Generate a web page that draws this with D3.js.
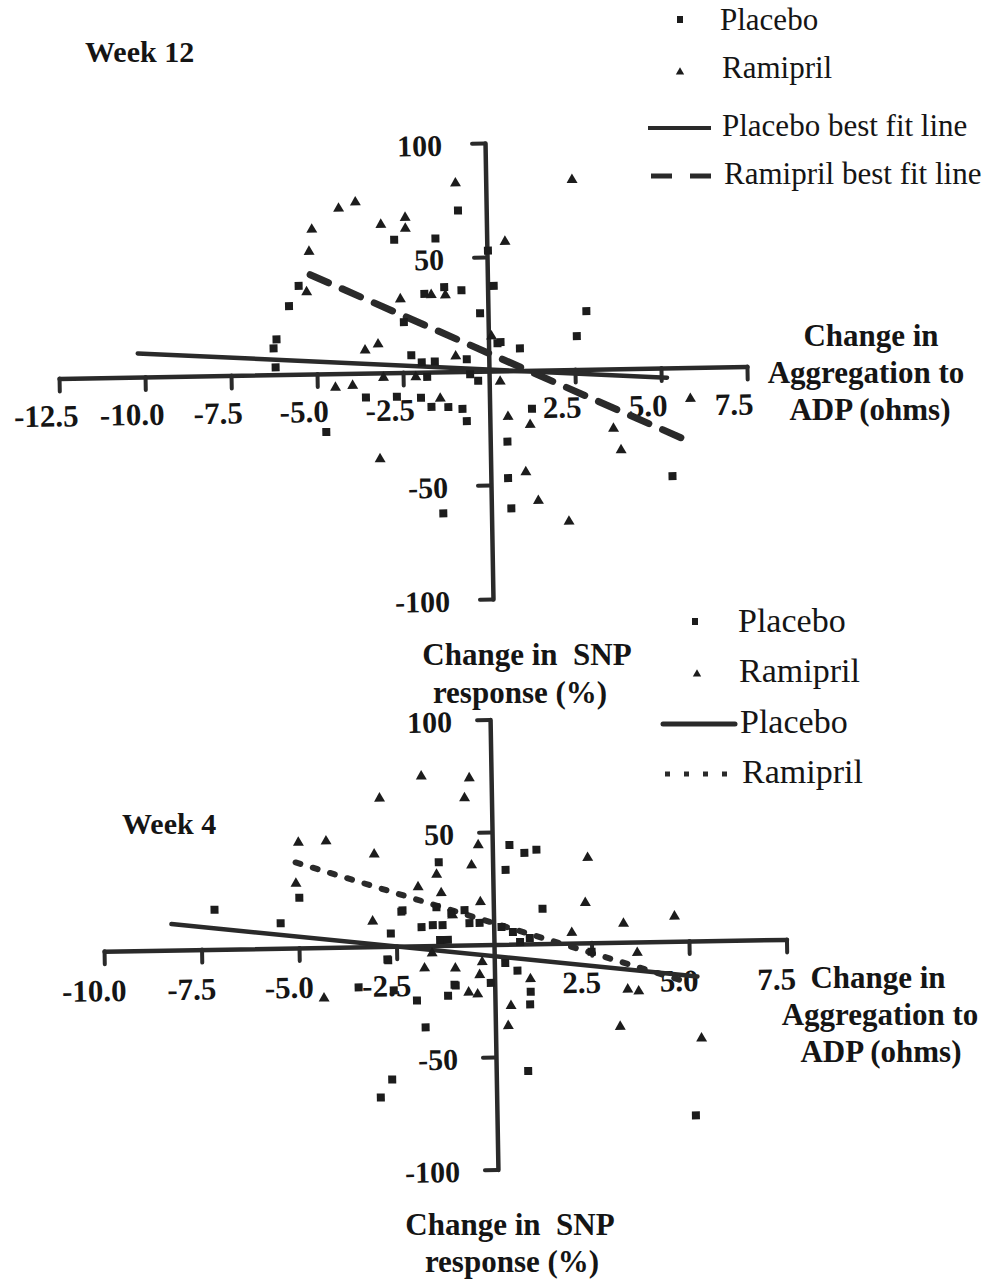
<!DOCTYPE html>
<html>
<head>
<meta charset="utf-8">
<script src="https://cdn.jsdelivr.net/npm/d3@7"></script>
<style>
  html, body { margin: 0; padding: 0; background: #fff; }
  svg { display: block; }
  text { font-family: "Liberation Serif", "Times New Roman", serif; fill: #151515; }
  .bold { font-weight: bold; }
</style>
</head>
<body>
<script>
// ---- Week 12 panel: change in ADP aggregation (x, ohms) vs change in SNP response (y, %)
const week12Placebo = [
  [-0.82, 70.6], [-2.69, 58.3], [-1.49, 58.5], [-5.49, 38.8], [-5.78, 30.0], [-1.84, 34.3],
  [-1.26, 37.1], [-0.76, 35.6], [0.18, 37.3], [0.03, 52.8], [-0.23, 25.4], [-2.45, 22.1],
  [-6.16, 15.5], [-6.25, 11.6], [-2.25, 7.5], [0.26, 12.1], [-0.64, 5.3], [2.86, 25.5],
  [2.57, 14.6], [0.91, 9.7], [0.35, 12.6], [-1.95, 4.3], [-1.57, 4.6], [-1.8, -2.1],
  [-0.55, -1.3], [-0.32, -4.2], [-6.2, 3.2], [-3.59, -10.7], [-2.69, -10.6], [-1.99, -11.2],
  [-1.69, -15.3], [-1.2, -15.5], [-0.79, -16.4], [-0.67, -21.8], [-4.76, -25.5], [-1.4, -62.1],
  [0.5, -31.1], [0.5, -47.1], [0.58, -60.4], [1.23, -16.9], [5.28, -47.5]
];
const week12Ramipril = [
  [-0.88, 82.6], [-3.8, 75.0], [-4.29, 72.4], [-5.08, 63.4], [-5.17, 53.7], [-3.07, 65.0],
  [-2.36, 67.9], [-2.36, 63.1], [-5.26, 36.0], [-2.54, 32.2], [-1.64, 33.8], [-1.23, 33.6],
  [0.53, 56.6], [2.51, 83.2], [-3.59, 10.0], [-3.21, 12.6], [-0.96, 6.7], [0.09, 15.2],
  [-4.47, -6.1], [-3.97, -5.4], [-3.07, -2.1], [-2.13, -2.1], [0.32, -4.7], [-1.43, -11.7],
  [-3.21, -37.8], [0.53, -20.2], [1.17, -23.9], [3.59, -26.2], [3.8, -35.7], [5.84, -13.7],
  [1.02, -44.6], [1.37, -57.3], [2.25, -66.6]
];
const week12PlaceboFit = [[-10.2, 10.4], [5.17, -4.3]];
const week12RamiprilFit = [[-5.15, 43.6], [5.9, -33.2]];
const week12XTicks = [-12.5, -10, -7.5, -5, -2.5, 2.5, 5, 7.5];

// ---- Week 4 panel
const week4Placebo = [
  [-1.38, 37.0], [-4.97, 22.3], [-2.36, 15.3], [-7.15, 17.6], [-5.46, 11.1], [-2.64, 5.7],
  [-2.74, -5.8], [-2.33, 15.9], [-1.85, 8.3], [-1.56, 9.1], [-1.31, 9.0], [-1.46, 17.0],
  [-1.08, 14.2], [-0.74, 15.5], [-0.62, 9.7], [-0.36, 9.7], [-1.38, 2.4], [-1.18, 2.4],
  [0.44, 44.1], [0.82, 40.5], [1.13, 41.8], [0.33, 33.1], [1.26, 15.5], [0.2, 7.7],
  [0.49, 5.4], [0.92, 2.6], [0.67, 0.9], [2.5, -4.0], [0.28, -8.3], [0.59, -11.8],
  [-1.0, -17.9], [0.92, -21.3], [-1.2, -22.4], [-2.72, -6.2], [-3.49, -18.0], [-2.59, -19.6],
  [-2.0, -24.3], [-1.03, -17.6], [-1.79, -36.3], [-2.67, -59.2], [-2.97, -67.1], [-0.1, -17.0],
  [0.9, -26.9], [0.82, -56.5], [5.1, -77.5]
];
const week4Ramipril = [
  [-1.79, 75.3], [-0.56, 74.1], [-0.69, 65.3], [-2.87, 65.8], [-4.97, 46.8], [-4.26, 47.2],
  [-3.03, 41.0], [-0.36, 44.3], [-0.54, 35.4], [-1.44, 31.5], [-5.05, 28.6], [-1.92, 26.1],
  [-1.33, 23.3], [-0.33, 19.0], [-3.1, 11.2], [-1.59, -3.4], [-1.05, 13.3], [2.44, 37.8],
  [2.36, 17.8], [3.33, 8.3], [4.64, 11.1], [2.0, 4.6], [3.67, -4.8], [-1.79, -10.0],
  [-1.0, -10.3], [-0.31, -7.7], [-0.38, -13.4], [0.92, -15.6], [-0.67, -21.1], [-0.44, -22.0],
  [3.41, -21.0], [3.69, -21.9], [-4.38, -22.6], [0.41, -27.4], [0.33, -36.3], [3.2, -37.5],
  [5.28, -43.3]
];
const week4PlaceboFit = [[-8.26, 11.6], [5.2, -15.8]];
const week4RamiprilFit = [[-5.05, 38.0], [5.0, -18.6]];
const week4XTicks = [-10, -7.5, -5, -2.5, 2.5, 5, 7.5];

const yTicks = [-100, -50, 50, 100];

const W = 991, H = 1279;
const ink = "#1c1c1c";
const axisInk = "#2a2a2a";

const svg = d3.select("body").append("svg")
  .attr("width", W).attr("height", H)
  .attr("viewBox", `0 0 ${W} ${H}`);

svg.append("rect").attr("width", W).attr("height", H).attr("fill", "#fff");

function drawPanel(opt) {
  const x = d3.scaleLinear().domain(opt.xDomain).range(opt.xRange);
  const y = d3.scaleLinear().domain([-100, 100]).range(opt.yRange);
  const ox = x(0), oy = y(0);

  // the printed figure sits slightly askew; tilt the whole plot around its origin
  const g = svg.append("g").attr("transform", `rotate(${opt.tilt}, ${ox}, ${oy})`);

  // x axis through y = 0
  const xAxis = d3.axisBottom(x)
    .tickValues(opt.xTicks)
    .tickSize(13)
    .tickSizeOuter(0)
    .tickPadding(opt.xPad)
    .tickFormat(d => d.toFixed(1));
  const gx = g.append("g").attr("transform", `translate(0,${oy})`).call(xAxis);
  gx.select(".domain").attr("stroke", axisInk).attr("stroke-width", 4.5).attr("stroke-linecap", "round");
  gx.selectAll(".tick line").attr("stroke", axisInk).attr("stroke-width", 4).attr("stroke-linecap", "round");
  gx.selectAll(".tick text")
    .attr("class", "bold")
    .attr("font-size", 31)
    .attr("fill", "#151515")
    .attr("dx", opt.xLabelDx);
  gx.attr("font-family", null).attr("font-size", null);

  // y axis through x = 0
  const yAxis = d3.axisLeft(y)
    .tickValues(yTicks)
    .tickSize(13)
    .tickSizeOuter(0)
    .tickPadding(opt.yPad)
    .tickFormat(d => String(d));
  const gy = g.append("g").attr("transform", `translate(${ox},0)`).call(yAxis);
  gy.select(".domain").attr("stroke", axisInk).attr("stroke-width", 4.5).attr("stroke-linecap", "round");
  gy.selectAll(".tick line").attr("stroke", axisInk).attr("stroke-width", 4).attr("stroke-linecap", "round");
  gy.selectAll(".tick text")
    .attr("class", "bold")
    .attr("font-size", 30)
    .attr("fill", "#151515")
    .attr("dy", "0.38em");
  gy.attr("font-family", null).attr("font-size", null);

  // best fit lines
  const line = d3.line().x(d => x(d[0])).y(d => y(d[1]));
  g.append("path").datum(opt.placeboFit)
    .attr("d", line).attr("fill", "none")
    .attr("stroke", axisInk).attr("stroke-width", 4.5).attr("stroke-linecap", "round");
  g.append("path").datum(opt.ramiprilFit)
    .attr("d", line).attr("fill", "none")
    .attr("stroke", axisInk).attr("stroke-width", opt.ramiprilWidth)
    .attr("stroke-linecap", "round")
    .attr("stroke-dasharray", opt.ramiprilDash);

  // placebo points: squares
  g.append("g").selectAll("rect").data(opt.placebo).join("rect")
    .attr("x", d => x(d[0]) - 4).attr("y", d => y(d[1]) - 4)
    .attr("width", 8).attr("height", 8).attr("fill", ink);

  // ramipril points: triangles
  const tri = d3.symbol(d3.symbolTriangle).size(52);
  g.append("g").selectAll("path").data(opt.ramipril).join("path")
    .attr("d", tri)
    .attr("transform", d => `translate(${x(d[0])},${y(d[1])})`)
    .attr("fill", ink);
}

drawPanel({
  xDomain: [-12.5, 7.5], xRange: [59, 747], yRange: [599, 143],
  xTicks: week12XTicks, xPad: 13, xLabelDx: -14, yPad: 30, tilt: -1,
  placebo: week12Placebo, ramipril: week12Ramipril,
  placeboFit: week12PlaceboFit, ramiprilFit: week12RamiprilFit,
  ramiprilDash: "20,15", ramiprilWidth: 7
});

drawPanel({
  xDomain: [-10, 7.5], xRange: [104, 786.5], yRange: [1169.5, 719.5],
  xTicks: week4XTicks, xPad: 15, xLabelDx: -11, yPad: 25, tilt: -1,
  placebo: week4Placebo, ramipril: week4Ramipril,
  placeboFit: week4PlaceboFit, ramiprilFit: week4RamiprilFit,
  ramiprilDash: "5,13", ramiprilWidth: 6
});

// ---- titles and axis captions
function label(txt, x, y, size, bold, anchor) {
  svg.append("text")
    .attr("x", x).attr("y", y)
    .attr("font-size", size)
    .attr("font-weight", bold ? "bold" : "normal")
    .attr("text-anchor", anchor || "start")
    .style("white-space", "pre")
    .text(txt);
}

label("Week 12", 85, 62, 30, true);
label("Change in", 871, 346, 31, true, "middle");
label("Aggregation to", 866, 383, 31, true, "middle");
label("ADP (ohms)", 870, 420, 31, true, "middle");
label("Change in  SNP", 527, 665, 31, true, "middle");
label("response (%)", 520, 703, 31, true, "middle");

label("Week 4", 122, 834, 30, true);
label("Change in", 878, 988, 31, true, "middle");
label("Aggregation to", 880, 1025, 31, true, "middle");
label("ADP (ohms)", 881, 1062, 31, true, "middle");
label("Change in  SNP", 510, 1235, 31, true, "middle");
label("response (%)", 512, 1272, 31, true, "middle");

// ---- legends
const legTri = d3.symbol(d3.symbolTriangle).size(30);

// Week 12 legend
svg.append("rect").attr("x", 677).attr("y", 16).attr("width", 6).attr("height", 7).attr("fill", ink);
label("Placebo", 720, 30, 31, false);
svg.append("path").attr("d", legTri).attr("transform", "translate(680,72)").attr("fill", ink);
label("Ramipril", 722, 78, 31, false);
svg.append("line").attr("x1", 648).attr("x2", 711).attr("y1", 128).attr("y2", 128)
  .attr("stroke", axisInk).attr("stroke-width", 4);
label("Placebo best fit line", 722, 136, 31, false);
svg.append("line").attr("x1", 651).attr("x2", 712).attr("y1", 176).attr("y2", 176)
  .attr("stroke", axisInk).attr("stroke-width", 5).attr("stroke-dasharray", "21,18");
label("Ramipril best fit line", 724, 184, 31, false);

// Week 4 legend
svg.append("rect").attr("x", 692).attr("y", 618).attr("width", 6).attr("height", 7).attr("fill", ink);
label("Placebo", 738, 632, 34, false);
svg.append("path").attr("d", legTri).attr("transform", "translate(697,674)").attr("fill", ink);
label("Ramipril", 739, 682, 34, false);
svg.append("line").attr("x1", 663).attr("x2", 735).attr("y1", 724).attr("y2", 724)
  .attr("stroke", axisInk).attr("stroke-width", 5).attr("stroke-linecap", "round");
label("Placebo", 740, 733, 34, false);
svg.append("line").attr("x1", 665).attr("x2", 735).attr("y1", 774).attr("y2", 774)
  .attr("stroke", axisInk).attr("stroke-width", 5).attr("stroke-dasharray", "5,14");
label("Ramipril", 742, 783, 34, false);
</script>
</body>
</html>
